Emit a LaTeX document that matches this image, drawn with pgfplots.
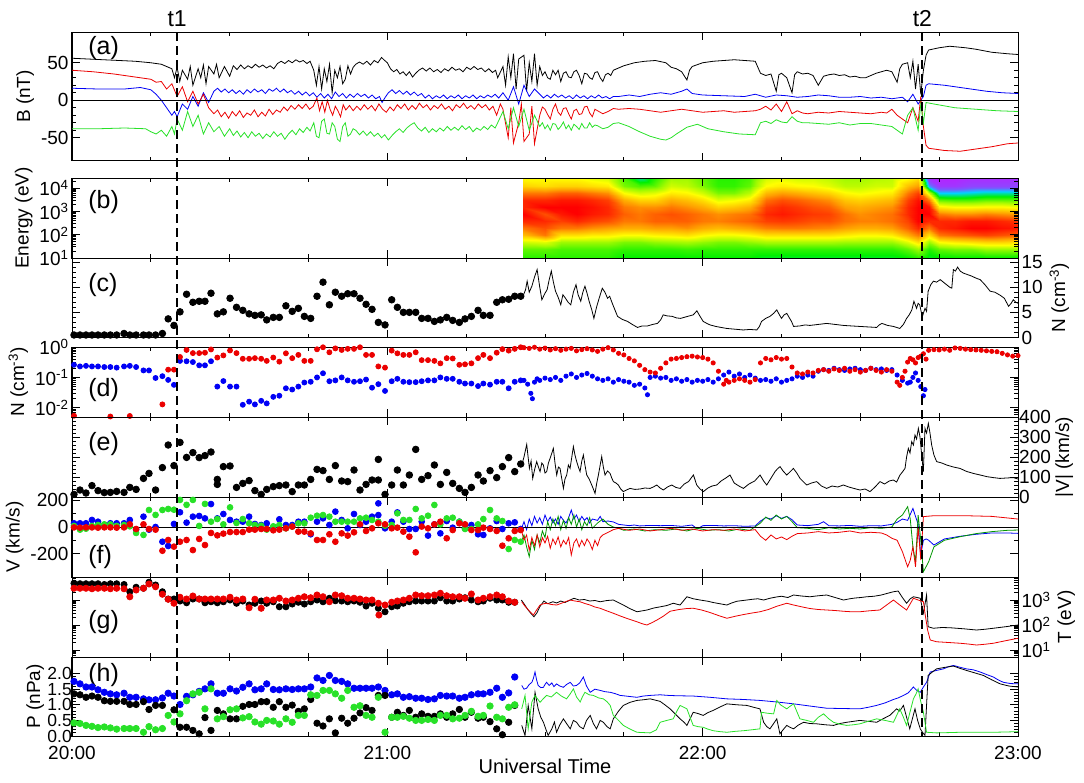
\documentclass[border=0pt]{standalone}
\usepackage{fontspec}
\setmainfont{Liberation Sans}
\usepackage{pgfplots}
\usepackage{pgfplotstable}
\pgfplotsset{compat=1.18}
\definecolor{cR}{RGB}{235,0,0}
\definecolor{cB}{RGB}{0,0,245}
\definecolor{cG}{RGB}{40,225,40}
\definecolor{cGd}{RGB}{0,150,0}

\pgfplotstableread{
t     Nc   Nr     Nb     V    Vb   Vg   Vr   Tk   Tr   Pb   Pk   Pg
0.38  0.5  0.0055 0.26   13   28   8    -3   3.67 3.47 1.75 1.35 0.42
1.52  0.5  nan    0.23   35   28   -20  -5   3.65 3.47 1.67 1.32 0.40
2.66  0.5  nan    0.24   20   28   -13  -3   3.65 3.47 1.57 1.24 0.34
3.8   0.5  nan    0.23   57   53   8    -3   3.65 3.45 1.57 1.28 0.31
4.95  0.5  nan    0.23   32   40   15   -5   3.65 3.47 1.48 1.24 0.27
6.15  0.5  nan    0.22   22   15   20   -3   3.62 3.47 1.40 1.13 0.29
7.3   0.5  0.0052 0.22   23   28   20   -3   3.65 3.45 1.35 1.11 0.26
8.5   0.5  nan    0.21   28   28   8    -5   3.65 3.47 1.32 1.11 0.22
9.9   0.8  nan    0.23   23   28   15   -3   3.62 3.45 1.37 1.11 0.24
11.0  0.5  0.0054 0.24   48   53   5    20   3.33 3.13 1.24 1.01 0.24
12.2  0.5  nan    0.22   38   -20  -45  -15  3.51 3.40 1.24 1.01 0.24
13.6  0.5  nan    0.17   93   78   -60  20   3.47 3.47 1.19 1.10 0.12
14.65 0.5  nan    0.17   118  -20  128  -15  3.71 3.64 1.16 0.85 0.30
15.9  0.5  nan    0.096  35   0    91   -20  3.60 3.53 1.16 0.98 0.20
17.2  0.8  0.013  0.11   147  -111 128  -179 3.33 3.23 1.22 0.98 0.24
18.3  3.7  0.18   0.083  260  -143 136  -98  3.04 3.03 1.37 nan  0.66
19.4  2.4  0.18   0.057  157  23   130  -148 3.04 2.87 1.28 0.84 0.45
20.55 5.1  0.47   0.35   273  111  204  -111 2.96 3.11 1.01 0.28 0.71
21.8  8.6  0.8    0.34   198  33   167  -98  2.89 3.04 1.27 0.28 1.13
23.0  7.0  0.63   0.32   222  78   204  -174 3.04 3.16 1.32 0.18 1.35
24.2  7.2  0.63   0.25   197  83   8    -90  3.04 3.04 1.43 0.07 1.40
25.3  7.2  0.65   0.25   207  65   174  -136 2.89 3.04 1.51 0.59 0.87
26.45 8.8  0.83   0.34   225  173  40   -45  2.93 3.04 1.67 0.18 1.51
27.65 4.7  0.45   0.05   88   65   60   -63  2.89 3.04 1.37 0.82 0.55
28.8  5.1  0.53   0.076  152  98   20   -50  2.93 3.04 1.37 0.71 0.62
30.07 7.8  0.77   0.05   155  53   148  -38  3.00 3.11 1.51 0.55 0.84
31.3  6.0  0.63   0.05   48   40   30   -38  2.87 3.00 1.44 0.55 0.87
32.5  5.4  0.41   0.0126 68   40   60   -38  2.96 3.04 1.56 0.95 0.58
33.7  4.7  0.41   0.016  82   78   28   -20  2.80 2.69 1.67 1.01 0.62
34.8  4.4  0.43   0.013  32   23   15   -20  2.87 3.03 1.48 1.01 0.45
36.0  4.5  0.41   0.017  13   15   10   -15  2.96 2.67 1.51 1.10 0.38
37.05 3.5  0.35   0.014  38   28   -20  -15  2.87 3.00 1.67 1.10 0.50
38.3  4.0  0.45   0.023  52   -3   5    -25  2.93 3.00 1.49 0.92 0.48
39.45 4.0  0.33   0.025  57   58   15   -20  2.73 3.07 1.48 1.10 0.38
40.7  6.3  0.62   0.044  60   15   -10  -10  2.73 2.96 1.51 0.92 0.55
41.9  5.2  0.43   0.04   27   15   3    3    2.84 3.00 1.49 0.99 0.44
43.07 5.8  0.55   0.05   60   40   28   -35  2.91 3.07 1.51 0.79 0.66
44.21 4.2  0.35   0.068  60   40   28   -35  2.84 3.13 1.51 0.87 0.66
45.42 3.8  0.35   0.072  88   -55  70   -48  2.93 3.09 1.57 1.17 1.32
46.62 8.2  0.84   0.1    138  40   85   -98  3.00 3.20 1.86 0.41 1.30
47.76 11.0 0.98   0.137  132  65   90   -98  2.93 3.13 1.78 0.32 1.46
48.97 6.5  0.67   0.075  88   15   78   -55  3.07 2.93 1.94 0.55 1.46
50.11 9.0  0.9    0.08   157  116  40   -111 2.97 3.20 1.78 0.10 1.35
51.31 8.2  0.8    0.1    80   53   40   -48  2.96 3.17 1.75 0.57 1.21
52.46 8.7  0.87   0.08   77   -10  40   -65  2.93 3.07 1.67 0.41 1.46
53.66 8.7  0.87   0.072  135  98   40   -40  2.96 3.07 1.53 0.57 0.92
54.8  7.8  0.98   0.075  35   15   65   20   2.91 3.04 1.53 0.74 0.97
55.95 6.6  0.55   0.085  63   40   70   -30  2.76 3.00 1.53 0.91 0.66
57.09 5.6  0.55   0.046  85   78   53   -10  2.87 3.00 1.53 0.82 0.60
58.29 3.0  0.23   0.06   188  90   40   28   2.67 2.87 1.57 1.30 1.24
59.56 2.5  0.21   0.036  13   -10  10   20   2.53 2.80 1.46 1.30 0.12
60.83 7.5  0.76   0.075  60   40   15   -10  2.73 2.91 1.32 0.60 0.60
61.91 6.0  0.62   0.09   135  110  103  -5   2.76 2.96 1.35 0.76 0.60
63.05 5.0  0.55   0.072  60   40   53   -35  2.87 3.00 1.24 0.66 0.63
64.19 5.0  0.55   0.07   110  -15  53   -73  2.93 3.07 1.26 0.82 0.57
65.4  5.0  0.67   0.07   238  -15  136  -191 2.96 3.20 1.21 0.60 0.50
66.54 3.8  0.37   0.075  88   40   65   3    2.96 3.17 1.21 0.71 0.50
67.74 3.8  0.37   0.08   107  -65  85   -10  2.96 3.17 1.17 0.63 0.53
68.95 3.2  0.35   0.08   160  20   166  20   2.96 3.20 1.19 0.63 0.50
70.09 3.5  0.29   0.1    63   -48  20   40   3.09 3.27 1.30 0.71 0.66
71.3  4.0  0.43   0.09   123  45   65   -85  2.96 3.17 1.28 0.60 0.66
72.44 3.4  0.42   0.09   68   -5   70   -23  2.96 3.13 1.28 0.71 0.55
73.7  3.0  0.26   0.072  43   40   40   28   3.04 3.13 1.21 0.85 0.57
74.78 3.7  0.27   0.063  23   -10  -15  20   3.09 3.07 1.24 0.60 0.66
75.99 4.2  0.29   0.063  48   15   -15  -23  3.00 3.24 1.32 0.76 0.79
77.26 5.4  0.43   0.052  110  -55  20   -23  2.93 3.00 1.35 0.57 0.63
78.27 4.4  0.55   0.063  80   -60  60   -5   2.96 3.07 1.35 0.60 0.66
79.54 4.4  0.43   0.058  132  -10  128  -15  3.07 3.13 1.40 0.46 0.96
80.81 7.0  0.65   0.072  97   45   65   -30  3.00 3.20 1.53 0.23 0.60
81.89 7.5  0.85   0.072  152  -15  45   -141 3.00 3.13 1.24 0.04 0.55
83.09 7.6  0.76   0.044  197  28   -166 -85  2.91 2.96 1.38 0.44 0.92
84.24 8.2  0.87   0.072  127  35   -98  -30  2.91 2.91 1.89 0.98 1.00
85.38 8.2  0.98   0.08   165  -15  -111 -23  nan  nan  nan  nan  nan
}\dots

\pgfplotsset{
  panel/.style={
    scale only axis, width=946pt, anchor=north west,
    xmin=0, xmax=180, xtick={0,60,120,180},
    minor xtick={15,30,45,75,90,105,135,150,165},
    xticklabels={},
    tick align=inside, major tick length=8pt, minor tick length=4pt,
    axis line style={line width=1pt},
    every tick/.style={black, line width=0.9pt},
    tick label style={font=\fontsize{19}{21}\selectfont},
    label style={font=\fontsize{19}{21}\selectfont},
    /pgf/number format/assume math mode=true,
    every axis plot/.append style={line width=0.8pt},
  },
  dotk/.style={only marks, mark=*, mark size=3.3pt, black},
}
\tikzset{panellab/.style={anchor=north west, inner sep=0pt, font=\fontsize{25}{28}\selectfont}}

\begin{document}
\begin{tikzpicture}
\useasboundingbox (0pt,0pt) rectangle (1084pt,-782pt);

% ---------------- (a)
\begin{axis}[panel, at={(72pt,-32pt)}, height=129pt, ymin=-81, ymax=91,
  ytick={-50,0,50}, minor y tick num=4, ylabel={B (nT)}]
\addplot[black] coordinates {(0,56)(3,55)(6,54)(9,53)(12,52)(15,50)(17,48)(18,45)(19,42)(19.5,30)(20,44)(20.5,25)(21,40)(22,28)(22.5,45)(23,20)(24,42)(24.5,30)(25,47)(25.5,22)(26,45)(27,35)(27.5,48)(28,30)(29,45)(30,32)(30.7,46)(31.4,41)(32.1,47)(32.8,42)(33.5,46)(34.2,43)(34.9,48)(35.6,44)(36.3,47)(37,43)(37.7,46)(38.4,42)(39.1,49)(39.8,52)(40.5,49)(41.2,53)(41.9,50)(42.6,54)(43.3,51)(44,53)(44.7,49)(45.3,52)(46,40)(46.5,20)(47,45)(47.5,15)(48,42)(48.5,25)(49,48)(49.5,10)(50,40)(50.5,30)(51,45)(51.5,22)(52,28)(52.5,46)(53,35)(53.5,44)(54,48)(54.7,51)(55.4,48)(56.1,52)(56.8,47)(57.5,53)(58.2,50)(58.9,57)(59.5,53)(60,50)(60.6,42)(61.2,38)(61.8,41)(62.4,35)(63,38)(63.6,33)(64.2,38)(64.8,31)(65.4,36)(66,40)(66.7,43)(67.4,39)(68.1,43)(68.8,38)(69.5,41)(70.2,37)(70.9,42)(71.6,39)(72.3,44)(73,40)(73.7,42)(74.4,38)(75.1,44)(75.8,41)(76.5,45)(77.2,41)(77.9,43)(78.6,38)(79.3,42)(80,37)(80.6,40)(81,30)(82,45)(82.5,20)(83,58)(83.5,30)(84,62)(84.5,15)(85,55)(86,60)(86.5,12)(87,50)(87.5,25)(88,62)(88.5,20)(89,45)(89.5,33)(90,38)(90.5,30)(91,28)(91.5,40)(92,34)(92.5,40)(93,25)(93.5,36)(94,38)(94.5,31)(95,30)(95.5,38)(96,40)(96.5,33)(97,22)(97.5,36)(98,35)(98.5,30)(99,28)(99.5,37)(100,38)(100.5,30)(101,25)(101.5,34)(102,36)(102.5,33)(103,40)(105,46)(107,50)(109,52)(111,53)(113,50)(114,44)(115,42)(116,38)(117,27)(117.5,40)(118,45)(120,50)(122,52)(124,53)(126,54)(128,53)(130,52)(131,36)(132,33)(133,35)(134,12)(134.5,34)(135,36)(136,30)(137,10)(137.5,34)(138,38)(139,35)(140,36)(141,33)(142,20)(143,32)(144,34)(145,35)(146,33)(147,34)(148,31)(149,32)(150,30)(151,30)(152,33)(153,36)(154,38)(155,40)(156,38)(157,24)(157.5,42)(158,48)(159,50)(159.5,30)(160,52)(160.5,15)(161,48)(161.5,8)(162,40)(162.5,60)(163,67)(165,70)(167,72)(170,70)(172,68)(175,64)(178,62)(180,61)};
\addplot[cB] coordinates {(0,16)(5,15)(10,15)(13,17)(15,14)(16,8)(17,0)(18,-10)(19,-20)(19.5,-15)(20,-22)(21,-5)(22,-12)(23,5)(24,-8)(25,10)(26,-3)(27,12)(27.7,16)(28.4,11)(29.1,15)(29.8,10)(30.5,14)(31.2,9)(31.9,13)(32.6,8)(33.3,14)(34,10)(34.7,15)(35.4,11)(36.1,14)(36.8,9)(37.5,15)(38.2,12)(38.9,16)(39.6,11)(40.3,15)(41,10)(41.7,13)(42.4,8)(43.1,12)(43.8,7)(44.5,11)(45.2,6)(45.9,10)(46.6,4)(47.3,9)(48,3)(48.7,8)(49.4,2)(50.1,11)(50.8,5)(51.5,9)(52.2,3)(52.9,8)(53.6,4)(54.3,9)(55,5)(55.7,8)(56.4,3)(57.1,7)(57.8,2)(58.5,5)(59,-3)(59.6,4)(60.2,10)(60.9,14)(61.6,9)(62.3,13)(63,8)(63.7,12)(64.4,7)(65.1,11)(65.8,6)(66.5,9)(67.2,3)(67.9,7)(68.6,2)(69.3,6)(70,3)(70.7,7)(71.4,2)(72.1,6)(72.8,3)(73.5,7)(74.2,2)(74.9,6)(75.6,3)(76.3,7)(77,2)(77.7,6)(78.4,3)(79.1,7)(79.8,4)(80.5,8)(81.2,3)(82,10)(83,0)(84,18)(85,-5)(86,20)(87,5)(88,15)(89,8)(89.7,3)(90.4,7)(91.1,3)(91.8,8)(92.5,4)(93.2,7)(93.9,3)(94.6,6)(95.3,2)(96,7)(96.7,3)(97.4,6)(98.1,2)(98.8,6)(99.5,3)(100.2,7)(100.9,3)(101.6,5)(102.3,2)(103,5)(104,5)(106,7)(108,5)(110,8)(112,10)(114,8)(116,12)(117,15)(118,9)(120,7)(124,6)(128,5)(130,8)(132,4)(134,7)(136,6)(138,4)(140,5)(142,7)(144,6)(146,4)(148,4)(150,5)(152,3)(154,4)(156,2)(158,4)(159,-2)(160,8)(161,-5)(162,5)(162.5,20)(163,22)(166,20)(170,16)(174,12)(177,10)(180,9)};
\addplot[cR] coordinates {(0,40)(4,38)(8,35)(12,31)(15,28)(16,24)(17,25)(18,15)(19,22)(20,5)(21,18)(22,-2)(23,12)(24,-5)(25,8)(26,-10)(27,-18)(27.7,-13)(28.4,-22)(29.1,-16)(29.8,-24)(30.5,-15)(31.2,-21)(31.9,-14)(32.6,-23)(33.3,-17)(34,-20)(34.7,-13)(35.4,-22)(36.1,-16)(36.8,-21)(37.5,-12)(38.2,-19)(38.9,-13)(39.6,-16)(40.3,-9)(41,-14)(41.7,-7)(42.4,-12)(43.1,-6)(43.8,-11)(44.5,-5)(45.2,-12)(45.9,-8)(46.6,3)(47.1,-14)(47.6,-2)(48.1,-16)(48.6,0)(49.1,-12)(49.6,-20)(50.1,-8)(50.6,-14)(51.1,-22)(51.6,-6)(52.1,-13)(52.8,-7)(53.5,-14)(54.2,-8)(54.9,-13)(55.6,-6)(56.3,-12)(57,-7)(57.7,-14)(58.4,-5)(59.1,-12)(59.8,-16)(60.5,-9)(61.2,-14)(61.9,-6)(62.6,-11)(63.3,-5)(64,-13)(64.7,-7)(65.4,-12)(66.1,-4)(66.8,-10)(67.5,-6)(68.2,-13)(68.9,-7)(69.6,-11)(70.3,-5)(71,-12)(71.7,-8)(72.4,-14)(73.1,-6)(73.8,-10)(74.5,-4)(75.2,-11)(75.9,-7)(76.6,-12)(77.3,-5)(78,-10)(78.7,-6)(79.4,-13)(80.1,-8)(80.8,-20)(81.5,-5)(82,-12)(83,-50)(83.5,-10)(84,-57)(85,-30)(85.5,-5)(86,-55)(87,-45)(87.5,-8)(88,-58)(89,-20)(89.5,-9)(90,-12)(90.5,-19)(91,-25)(91.5,-12)(92,-5)(92.5,-16)(93,-20)(93.5,-11)(94,-10)(94.5,-18)(95,-25)(95.5,-14)(96,-12)(96.5,-19)(97,-18)(97.5,-9)(98,-8)(98.5,-17)(99,-22)(99.5,-12)(100,-14)(101,-18)(102,-15)(103,-11)(104,-12)(106,-11)(108,-12)(110,-14)(112,-16)(114,-14)(116,-12)(118,-14)(120,-16)(122,-15)(124,-14)(126,-16)(128,-15)(130,-14)(131,-12)(132,-8)(133,-13)(134,-5)(135,-15)(136,-2)(137,-18)(138,-14)(139,-17)(140,-18)(142,-16)(144,-17)(146,-15)(148,-16)(150,-17)(152,-18)(154,-16)(155,-17)(156,-12)(157,-20)(158,-25)(159,-30)(160,-10)(161,-28)(161.5,5)(162,-35)(162.5,-60)(163,-64)(166,-67)(169,-68)(172,-65)(175,-62)(178,-58)(180,-57)};
\addplot[cG] coordinates {(0,-38)(5,-38)(10,-37)(14,-38)(15,-42)(16,-45)(17,-40)(18,-48)(19,-35)(19.5,-45)(20,-25)(21,-40)(22,-15)(23,-35)(24,-20)(25,-45)(26,-30)(27,-42)(28,-35)(29,-48)(30,-38)(30.7,-47)(31.4,-41)(32.1,-49)(32.8,-43)(33.5,-50)(34.2,-42)(34.9,-48)(35.6,-44)(36.3,-51)(37,-45)(37.7,-49)(38.4,-42)(39.1,-48)(39.8,-44)(40.5,-52)(41.2,-45)(41.9,-40)(42.6,-46)(43.3,-38)(44,-43)(44.7,-36)(45.3,-41)(46,-30)(46.5,-48)(47,-50)(47.5,-28)(48,-25)(48.5,-44)(49,-45)(49.5,-30)(50,-35)(50.5,-52)(51,-55)(51.5,-35)(52,-30)(52.5,-48)(53,-45)(53.5,-38)(54,-40)(54.7,-46)(55.4,-41)(56.1,-47)(56.8,-42)(57.5,-48)(58.2,-44)(58.9,-50)(59.5,-46)(60.2,-53)(60.9,-47)(61.6,-42)(62.3,-38)(63,-43)(63.7,-37)(64.4,-33)(65.1,-30)(65.8,-37)(66.5,-41)(67.2,-36)(67.9,-43)(68.6,-38)(69.3,-42)(70,-37)(70.7,-41)(71.4,-35)(72.1,-40)(72.8,-36)(73.5,-40)(74.2,-34)(74.9,-39)(75.6,-35)(76.3,-42)(77,-37)(77.7,-40)(78.4,-35)(79.1,-39)(79.8,-33)(80.5,-37)(81,-30)(82,-15)(83,-38)(84,-10)(85,-35)(86,-12)(87,-40)(88,-20)(89,-35)(89.5,-30)(90,-38)(90.5,-33)(91,-40)(91.5,-31)(92,-32)(92.5,-39)(93,-35)(93.5,-29)(94,-38)(94.5,-33)(95,-40)(95.5,-32)(96,-35)(96.5,-39)(97,-31)(97.5,-37)(98,-37)(98.5,-30)(99,-36)(99.5,-33)(100,-34)(101,-38)(102,-36)(103,-31)(104,-30)(106,-35)(108,-42)(110,-48)(112,-52)(113,-53)(114,-50)(115,-45)(117,-36)(119,-32)(121,-38)(124,-42)(127,-45)(130,-46)(131,-30)(132,-28)(133,-31)(134,-26)(135,-29)(136,-30)(137,-22)(138,-28)(139,-30)(140,-30)(142,-31)(144,-32)(146,-30)(148,-33)(150,-31)(152,-31)(154,-33)(156,-35)(157,-40)(158,-45)(159,-20)(160,-10)(161,-40)(161.5,-5)(162,-30)(162.5,-3)(164,-5)(168,-10)(172,-12)(176,-14)(180,-15)};
\addplot[black] coordinates {(0,0)(180,0)};
\node[panellab] at (axis description cs:0.017,0.965) {(a)};
\coordinate (t1a) at (axis cs:20,91);
\coordinate (t2a) at (axis cs:161.8,91);
\end{axis}

% ---------------- (b)  (y = -log10 E on a reversed axis, so high energies are at the top)
\begin{axis}[panel, at={(72pt,-178pt)}, height=80pt, y dir=reverse, ymin=-4.43, ymax=-1,
  ytick={-4,-3,-2,-1},
  yticklabels={10\textsuperscript{4},10\textsuperscript{3},10\textsuperscript{2},10\textsuperscript{1}},
  minor ytick={-1.301,-1.477,-1.602,-1.699,-1.778,-1.845,-1.903,-1.954,-2.301,-2.477,-2.602,-2.699,-2.778,-2.845,-2.903,-2.954,-3.301,-3.477,-3.602,-3.699,-3.778,-3.845,-3.903,-3.954,-4.301},
  ylabel={Energy (eV)}, axis on top,
  colormap={spec}{rgb255(0cm)=(220,0,255) rgb255(2cm)=(120,90,255) rgb255(3cm)=(0,210,255) rgb255(4.2cm)=(0,240,0) rgb255(5.5cm)=(160,250,0) rgb255(6.5cm)=(255,255,0) rgb255(8cm)=(255,160,0) rgb255(10cm)=(255,0,0)},
  point meta min=0, point meta max=1]
\addplot[surf, shader=interp, mesh/cols=33, point meta=explicit] coordinates {
(85.8,-1.0)[.45] (90,-1.0)[.45] (93,-1.0)[.45] (96,-1.0)[.45] (99,-1.0)[.45] (102,-1.0)[.45] (105,-1.0)[.42] (108,-1.0)[.42] (111,-1.0)[.42] (114,-1.0)[.42] (117,-1.0)[.42] (120,-1.0)[.42] (123,-1.0)[.42] (126,-1.0)[.42] (129,-1.0)[.42] (132,-1.0)[.4] (135,-1.0)[.4] (138,-1.0)[.4] (141,-1.0)[.4] (144,-1.0)[.4] (147,-1.0)[.4] (150,-1.0)[.4] (153,-1.0)[.4] (156,-1.0)[.4] (159,-1.0)[.42] (161,-1.0)[.45] (163,-1.0)[.4] (165,-1.0)[.42] (168,-1.0)[.42] (171,-1.0)[.42] (174,-1.0)[.42] (177,-1.0)[.42] (180,-1.0)[.42]
(85.8,-1.4)[.5] (90,-1.4)[.5] (93,-1.4)[.48] (96,-1.4)[.48] (99,-1.4)[.48] (102,-1.4)[.48] (105,-1.4)[.46] (108,-1.4)[.46] (111,-1.4)[.46] (114,-1.4)[.46] (117,-1.4)[.47] (120,-1.4)[.46] (123,-1.4)[.46] (126,-1.4)[.46] (129,-1.4)[.46] (132,-1.4)[.46] (135,-1.4)[.46] (138,-1.4)[.46] (141,-1.4)[.46] (144,-1.4)[.46] (147,-1.4)[.46] (150,-1.4)[.46] (153,-1.4)[.46] (156,-1.4)[.46] (159,-1.4)[.5] (161,-1.4)[.55] (163,-1.4)[.45] (165,-1.4)[.5] (168,-1.4)[.52] (171,-1.4)[.52] (174,-1.4)[.55] (177,-1.4)[.55] (180,-1.4)[.55]
(85.8,-1.7)[.6] (90,-1.7)[.62] (93,-1.7)[.55] (96,-1.7)[.55] (99,-1.7)[.55] (102,-1.7)[.55] (105,-1.7)[.52] (108,-1.7)[.52] (111,-1.7)[.54] (114,-1.7)[.55] (117,-1.7)[.56] (120,-1.7)[.54] (123,-1.7)[.52] (126,-1.7)[.52] (129,-1.7)[.54] (132,-1.7)[.56] (135,-1.7)[.56] (138,-1.7)[.56] (141,-1.7)[.56] (144,-1.7)[.56] (147,-1.7)[.55] (150,-1.7)[.55] (153,-1.7)[.55] (156,-1.7)[.55] (159,-1.7)[.62] (161,-1.7)[.7] (163,-1.7)[.55] (165,-1.7)[.65] (168,-1.7)[.68] (171,-1.7)[.7] (174,-1.7)[.72] (177,-1.7)[.72] (180,-1.7)[.7]
(85.8,-2.0)[.75] (90,-2.0)[.85] (93,-2.0)[.7] (96,-2.0)[.7] (99,-2.0)[.68] (102,-2.0)[.68] (105,-2.0)[.65] (108,-2.0)[.65] (111,-2.0)[.67] (114,-2.0)[.68] (117,-2.0)[.7] (120,-2.0)[.66] (123,-2.0)[.64] (126,-2.0)[.64] (129,-2.0)[.66] (132,-2.0)[.7] (135,-2.0)[.7] (138,-2.0)[.7] (141,-2.0)[.7] (144,-2.0)[.7] (147,-2.0)[.68] (150,-2.0)[.66] (153,-2.0)[.66] (156,-2.0)[.68] (159,-2.0)[.78] (161,-2.0)[.85] (163,-2.0)[.7] (165,-2.0)[.85] (168,-2.0)[.88] (171,-2.0)[.9] (174,-2.0)[.92] (177,-2.0)[.9] (180,-2.0)[.88]
(85.8,-2.3)[.85] (90,-2.3)[.9] (93,-2.3)[.85] (96,-2.3)[.85] (99,-2.3)[.82] (102,-2.3)[.8] (105,-2.3)[.78] (108,-2.3)[.78] (111,-2.3)[.8] (114,-2.3)[.8] (117,-2.3)[.82] (120,-2.3)[.78] (123,-2.3)[.76] (126,-2.3)[.78] (129,-2.3)[.8] (132,-2.3)[.84] (135,-2.3)[.85] (138,-2.3)[.85] (141,-2.3)[.84] (144,-2.3)[.83] (147,-2.3)[.8] (150,-2.3)[.78] (153,-2.3)[.78] (156,-2.3)[.8] (159,-2.3)[.88] (161,-2.3)[.95] (163,-2.3)[.85] (165,-2.3)[.95] (168,-2.3)[.97] (171,-2.3)[1] (174,-2.3)[1] (177,-2.3)[.98] (180,-2.3)[.97]
(85.8,-2.6)[.95] (90,-2.6)[.95] (93,-2.6)[.92] (96,-2.6)[.95] (99,-2.6)[.92] (102,-2.6)[.9] (105,-2.6)[.85] (108,-2.6)[.85] (111,-2.6)[.88] (114,-2.6)[.88] (117,-2.6)[.88] (120,-2.6)[.85] (123,-2.6)[.84] (126,-2.6)[.86] (129,-2.6)[.88] (132,-2.6)[.92] (135,-2.6)[.93] (138,-2.6)[.92] (141,-2.6)[.9] (144,-2.6)[.9] (147,-2.6)[.86] (150,-2.6)[.84] (153,-2.6)[.84] (156,-2.6)[.86] (159,-2.6)[.92] (161,-2.6)[1] (163,-2.6)[.95] (165,-2.6)[.95] (168,-2.6)[.95] (171,-2.6)[.97] (174,-2.6)[.97] (177,-2.6)[.95] (180,-2.6)[.93]
(85.8,-2.9)[1] (90,-2.9)[.9] (93,-2.9)[.97] (96,-2.9)[1] (99,-2.9)[.97] (102,-2.9)[.95] (105,-2.9)[.88] (108,-2.9)[.85] (111,-2.9)[.88] (114,-2.9)[.9] (117,-2.9)[.88] (120,-2.9)[.85] (123,-2.9)[.82] (126,-2.9)[.84] (129,-2.9)[.86] (132,-2.9)[.95] (135,-2.9)[.97] (138,-2.9)[.95] (141,-2.9)[.93] (144,-2.9)[.92] (147,-2.9)[.86] (150,-2.9)[.82] (153,-2.9)[.84] (156,-2.9)[.86] (159,-2.9)[.95] (161,-2.9)[1] (163,-2.9)[1] (165,-2.9)[.85] (168,-2.9)[.82] (171,-2.9)[.82] (174,-2.9)[.84] (177,-2.9)[.82] (180,-2.9)[.8]
(85.8,-3.2)[.95] (90,-3.2)[1] (93,-3.2)[1] (96,-3.2)[1] (99,-3.2)[.98] (102,-3.2)[.95] (105,-3.2)[.85] (108,-3.2)[.82] (111,-3.2)[.82] (114,-3.2)[.85] (117,-3.2)[.82] (120,-3.2)[.78] (123,-3.2)[.72] (126,-3.2)[.74] (129,-3.2)[.78] (132,-3.2)[.92] (135,-3.2)[.95] (138,-3.2)[.93] (141,-3.2)[.9] (144,-3.2)[.88] (147,-3.2)[.8] (150,-3.2)[.78] (153,-3.2)[.8] (156,-3.2)[.82] (159,-3.2)[.95] (161,-3.2)[1] (163,-3.2)[.98] (165,-3.2)[.68] (168,-3.2)[.65] (171,-3.2)[.65] (174,-3.2)[.66] (177,-3.2)[.66] (180,-3.2)[.64]
(85.8,-3.5)[.95] (90,-3.5)[.95] (93,-3.5)[.97] (96,-3.5)[.97] (99,-3.5)[.95] (102,-3.5)[.92] (105,-3.5)[.78] (108,-3.5)[.72] (111,-3.5)[.72] (114,-3.5)[.78] (117,-3.5)[.75] (120,-3.5)[.7] (123,-3.5)[.62] (126,-3.5)[.64] (129,-3.5)[.68] (132,-3.5)[.86] (135,-3.5)[.9] (138,-3.5)[.88] (141,-3.5)[.85] (144,-3.5)[.82] (147,-3.5)[.74] (150,-3.5)[.72] (153,-3.5)[.74] (156,-3.5)[.76] (159,-3.5)[.92] (161,-3.5)[.98] (163,-3.5)[.85] (165,-3.5)[.5] (168,-3.5)[.48] (171,-3.5)[.48] (174,-3.5)[.5] (177,-3.5)[.5] (180,-3.5)[.5]
(85.8,-3.8)[.85] (90,-3.8)[.85] (93,-3.8)[.88] (96,-3.8)[.88] (99,-3.8)[.85] (102,-3.8)[.82] (105,-3.8)[.65] (108,-3.8)[.6] (111,-3.8)[.62] (114,-3.8)[.68] (117,-3.8)[.66] (120,-3.8)[.6] (123,-3.8)[.52] (126,-3.8)[.52] (129,-3.8)[.58] (132,-3.8)[.76] (135,-3.8)[.8] (138,-3.8)[.78] (141,-3.8)[.75] (144,-3.8)[.72] (147,-3.8)[.66] (150,-3.8)[.64] (153,-3.8)[.66] (156,-3.8)[.68] (159,-3.8)[.85] (161,-3.8)[.92] (163,-3.8)[.6] (165,-3.8)[.3] (168,-3.8)[.3] (171,-3.8)[.32] (174,-3.8)[.34] (177,-3.8)[.34] (180,-3.8)[.34]
(85.8,-4.1)[.72] (90,-4.1)[.7] (93,-4.1)[.72] (96,-4.1)[.72] (99,-4.1)[.7] (102,-4.1)[.68] (105,-4.1)[.52] (108,-4.1)[.48] (111,-4.1)[.5] (114,-4.1)[.6] (117,-4.1)[.58] (120,-4.1)[.52] (123,-4.1)[.46] (126,-4.1)[.46] (129,-4.1)[.5] (132,-4.1)[.65] (135,-4.1)[.68] (138,-4.1)[.66] (141,-4.1)[.65] (144,-4.1)[.62] (147,-4.1)[.58] (150,-4.1)[.58] (153,-4.1)[.6] (156,-4.1)[.6] (159,-4.1)[.75] (161,-4.1)[.8] (163,-4.1)[.25] (165,-4.1)[.12] (168,-4.1)[.12] (171,-4.1)[.15] (174,-4.1)[.15] (177,-4.1)[.15] (180,-4.1)[.15]
(85.8,-4.43)[.65] (90,-4.43)[.65] (93,-4.43)[.65] (96,-4.43)[.65] (99,-4.43)[.62] (102,-4.43)[.6] (105,-4.43)[.48] (108,-4.43)[.35] (111,-4.43)[.45] (114,-4.43)[.55] (117,-4.43)[.55] (120,-4.43)[.5] (123,-4.43)[.45] (126,-4.43)[.45] (129,-4.43)[.48] (132,-4.43)[.6] (135,-4.43)[.62] (138,-4.43)[.6] (141,-4.43)[.6] (144,-4.43)[.58] (147,-4.43)[.55] (150,-4.43)[.55] (153,-4.43)[.57] (156,-4.43)[.58] (159,-4.43)[.65] (161,-4.43)[.7] (163,-4.43)[.1] (165,-4.43)[.08] (168,-4.43)[.08] (171,-4.43)[.1] (174,-4.43)[.1] (177,-4.43)[.1] (180,-4.43)[.1]
};
\node[panellab] at (axis description cs:0.017,0.85) {(b)};
\end{axis}

% ---------------- (c)
\begin{axis}[panel, at={(72pt,-258pt)}, height=79.5pt, ymin=0, ymax=15.8,
  ytick={0,5,10,15}, minor y tick num=4, yticklabel pos=right,
  ylabel={N (cm\textsuperscript{-3})}]
\addplot[dotk] table[x=t,y=Nc] {\dots};
\addplot[black] coordinates {(85.8,8.2)(86.3,9.5)(86.6,11.2)(87.0,9.0)(87.5,10.2)(88.0,12.0)(88.5,13.5)(89.0,10.0)(89.4,7.5)(90.0,8.8)(90.4,9.5)(90.8,11.5)(91.2,13.2)(91.6,11.0)(92.0,9.2)(92.5,8.0)(93.0,6.5)(93.4,8.5)(93.9,7.8)(94.4,7.0)(94.9,6.5)(95.4,9.0)(95.9,10.5)(96.3,8.5)(96.8,7.2)(97.2,9.0)(97.6,10.2)(98.0,8.8)(98.4,7.2)(98.9,5.5)(99.3,3.8)(99.8,6.0)(100.3,7.8)(100.9,9.8)(101.4,9.0)(101.9,7.8)(102.3,8.2)(102.8,6.8)(103.3,5.5)(103.8,4.2)(104.7,3.6)(105.7,3.2)(106.6,2.6)(107.6,2.0)(108.5,2.3)(109.5,2.3)(110.5,2.6)(111.4,2.8)(112.0,3.5)(112.5,4.5)(113.2,4.3)(114.2,4.2)(115.0,3.9)(115.8,3.8)(116.8,4.1)(117.5,4.3)(118.2,4.5)(118.9,5.3)(119.5,4.2)(120.1,3.2)(120.8,2.8)(121.4,2.5)(122.5,2.2)(123.5,2.0)(124.6,1.8)(125.6,1.7)(126.7,1.6)(127.7,1.5)(129.0,1.6)(130.3,1.5)(130.8,2.2)(131.2,3.2)(132.0,3.8)(132.8,4.2)(133.5,4.8)(134.1,5.5)(134.6,4.5)(135.0,3.8)(135.5,4.5)(136.0,4.8)(136.5,3.9)(136.9,3.2)(137.3,2.2)(138.5,2.3)(139.5,2.5)(140.4,2.4)(142,2.6)(143.6,2.8)(145.2,2.6)(146.8,2.4)(148.3,2.3)(149.9,2.2)(151.5,2.1)(153.1,2.0)(153.6,2.5)(154.1,2.8)(155.2,2.4)(156.3,2.2)(157.5,1.8)(158.2,2.6)(158.8,3.8)(159.3,4.5)(159.8,5.5)(160.2,7.2)(160.7,5.8)(161.0,6.8)(161.3,6.5)(161.6,5.0)(161.9,4.5)(162.3,5.8)(162.6,5.2)(162.9,9.2)(163.4,10.5)(163.9,11.2)(164.5,11.0)(165.2,11.5)(165.8,11.0)(166.4,10.5)(167.0,10.0)(167.4,9.8)(167.7,13.5)(168.1,13.2)(168.5,14.0)(169.0,13.2)(169.6,12.8)(170.4,12.5)(171.2,12.2)(172.0,11.8)(172.8,11.5)(173.7,10.5)(174.7,9.2)(175.6,9.0)(176.6,8.4)(177.4,7.8)(178.2,6.2)(178.7,6.8)(179.1,7.5)(179.6,7.0)(180,6.8)};
\node[panellab] at (axis description cs:0.017,0.81) {(c)};
\end{axis}

% ---------------- (d)
\begin{axis}[panel, at={(72pt,-347pt)}, height=70pt, ymode=log, ymin=0.005, ymax=1,
  ytick={0.01,0.1,1},
  yticklabels={10\textsuperscript{-2},10\textsuperscript{-1},10\textsuperscript{0}},
  minor ytick={0.006,0.007,0.008,0.009,0.02,0.03,0.04,0.05,0.06,0.07,0.08,0.09,0.2,0.3,0.4,0.5,0.6,0.7,0.8,0.9},
  ylabel={N (cm\textsuperscript{-3})}]
\addplot[only marks, mark=*, mark size=2.5pt, cB] table[x=t,y=Nb] {\dots};
\addplot[only marks, mark=*, mark size=2.5pt, cR] table[x=t,y=Nr] {\dots};
\addplot[only marks, mark=*, mark size=2.1pt, cB] coordinates {(86,0.08)(86.7,0.06)(87.3,0.03)(87.6,0.02)(88,0.07)(88.5,0.09)(89,0.08)(90,0.095)(91,0.085)(92,0.1)(93,0.08)(94,0.11)(95,0.13)(96,0.1)(97,0.12)(98,0.135)(99,0.11)(100,0.09)(101,0.08)(102,0.09)(103,0.07)(104,0.085)(105,0.075)(106,0.07)(107,0.055)(108,0.06)(109,0.045)(109.5,0.027)(110,0.1)(111,0.11)(112,0.095)(113,0.1)(114,0.08)(115,0.09)(116,0.075)(117,0.085)(118,0.07)(119,0.08)(120,0.075)(121,0.085)(122,0.07)(123,0.09)(124,0.12)(125,0.15)(126,0.11)(127,0.13)(128,0.1)(129,0.12)(130,0.095)(131,0.08)(132,0.085)(133,0.075)(134,0.09)(135,0.07)(136,0.08)(137,0.09)(138,0.11)(139,0.1)(140,0.12)(141,0.11)(142,0.16)(143,0.18)(144,0.17)(145,0.2)(146,0.18)(147,0.17)(148,0.19)(149,0.2)(150,0.18)(151,0.17)(152,0.2)(153,0.18)(154,0.19)(155,0.17)(156,0.18)(157,0.12)(158,0.08)(159,0.065)(159.5,0.07)(160,0.1)(160.5,0.14)(161,0.08)(161.5,0.05)(162,0.025)(162.3,0.04)};
\addplot[only marks, mark=*, mark size=2.1pt, cR] coordinates {(86,0.95)(87,0.9)(88,0.98)(89,0.85)(90,0.92)(91,0.8)(92,0.88)(93,0.78)(94,0.85)(95,0.9)(96,0.75)(97,0.82)(98,0.88)(99,0.8)(100,0.72)(101,0.85)(102,0.95)(103,0.8)(104,0.62)(105,0.55)(106,0.42)(107,0.35)(108,0.25)(109,0.18)(110,0.15)(111,0.14)(112,0.2)(113,0.3)(114,0.4)(115,0.42)(116,0.45)(117,0.48)(118,0.5)(119,0.47)(120,0.45)(121,0.4)(122,0.3)(123,0.16)(124,0.06)(124.5,0.08)(125,0.07)(126,0.08)(127,0.09)(128,0.08)(129,0.07)(130,0.085)(131,0.3)(132,0.42)(133,0.38)(134,0.45)(135,0.4)(136,0.42)(137,0.22)(138,0.14)(139,0.13)(140,0.15)(141,0.14)(142,0.17)(143,0.18)(144,0.16)(145,0.19)(146,0.17)(147,0.2)(148,0.16)(149,0.18)(150,0.15)(151,0.17)(152,0.2)(153,0.17)(154,0.15)(155,0.18)(156,0.16)(157,0.07)(157.5,0.055)(158,0.1)(158.5,0.16)(159,0.32)(159.5,0.42)(160,0.38)(160.5,0.3)(161,0.45)(161.5,0.5)(162,0.6)(162.5,0.4)(163,0.78)(164,0.82)(165,0.8)(166,0.85)(167,0.78)(168,0.93)(169,0.9)(170,0.85)(171,0.82)(172,0.8)(173,0.78)(174,0.75)(175,0.72)(176,0.7)(177,0.62)(178,0.55)(179,0.5)(180,0.52)};
\node[panellab] at (axis description cs:0.017,0.557) {(d)};
\end{axis}

% ---------------- (e)
\begin{axis}[panel, at={(72pt,-417pt)}, height=80pt, ymin=0, ymax=400,
  ytick={0,100,200,300,400}, minor y tick num=4, yticklabel pos=right,
  yticklabel style={inner sep=1pt},
  ylabel={|V| (km/s)}]
\addplot[dotk] table[x=t,y=V] {\dots};
\addplot[dotk] coordinates {(27.65,63)(58.29,85)};
\addplot[black] coordinates {(85.57,160)(86.0,200)(86.52,263)(87.03,143)(87.35,180)(87.66,93)(88.05,140)(88.42,177)(88.75,150)(89.06,127)(89.4,170)(89.69,160)(90.0,120)(90.32,127)(90.65,170)(90.96,193)(91.3,220)(91.59,243)(91.9,170)(92.23,110)(92.55,150)(92.86,143)(93.2,90)(93.5,43)(93.8,90)(94.13,110)(94.45,160)(94.77,143)(95.1,200)(95.4,252)(95.7,210)(96.03,177)(96.35,150)(96.67,127)(97.0,180)(97.3,210)(97.6,160)(97.94,110)(98.4,90)(98.89,60)(99.2,40)(99.52,18)(99.85,70)(100.16,110)(100.5,160)(100.79,202)(101.1,150)(101.42,110)(101.9,130)(102.38,118)(102.7,95)(103.01,77)(103.5,70)(103.96,60)(104.4,40)(104.91,27)(105.5,35)(106.18,43)(107.1,38)(108.08,40)(109.0,45)(109.99,43)(110.6,50)(111.26,60)(111.9,45)(112.52,35)(113.3,50)(114.11,60)(114.9,48)(115.7,43)(116.5,65)(117.3,77)(118.24,110)(118.87,60)(119.5,40)(120.14,27)(121.0,45)(121.8,55)(122.68,60)(123.5,80)(124.4,95)(125.2,110)(126.0,70)(126.9,55)(127.75,43)(128.8,65)(129.9,80)(130.92,110)(131.6,80)(132.19,60)(132.9,90)(133.77,127)(134.2,140)(134.72,152)(135.3,130)(135.99,110)(136.6,125)(137.26,143)(137.9,120)(138.53,93)(139.2,75)(139.8,60)(140.7,70)(141.7,77)(142.6,55)(143.6,43)(144.6,55)(145.7,50)(146.77,60)(147.8,50)(148.9,42)(149.94,35)(150.9,40)(151.84,27)(152.8,50)(153.74,77)(154.6,65)(155.5,80)(156.28,85)(156.9,75)(157.55,110)(158.0,125)(158.5,143)(158.8,200)(159.13,243)(159.45,220)(159.77,277)(160.1,260)(160.4,310)(160.7,290)(161.04,343)(161.35,300)(161.67,210)(161.99,127)(162.3,343)(162.6,320)(162.94,368)(163.25,320)(163.57,260)(164.0,210)(164.52,177)(165.5,170)(166.42,160)(167.7,150)(168.96,143)(170.2,128)(171.5,118)(172.8,110)(174.03,102)(175.3,97)(176.57,93)(177.8,95)(179.1,97)(180,90)};
\node[panellab] at (axis description cs:0.017,0.81) {(e)};
\end{axis}

% ---------------- (f)
\begin{axis}[panel, at={(72pt,-497pt)}, height=80pt, ymin=-377, ymax=226,
  ytick={-200,0,200}, minor y tick num=1, ylabel={V (km/s)}]
\addplot[only marks, mark=*, mark size=2.9pt, cB] table[x=t,y=Vb] {\dots};
\addplot[only marks, mark=*, mark size=2.9pt, cB] coordinates {(58.29,178)};
\addplot[only marks, mark=*, mark size=2.9pt, cG] table[x=t,y=Vg] {\dots};
\addplot[only marks, mark=*, mark size=2.9pt, cR] table[x=t,y=Vr] {\dots};
\addplot[cB] coordinates {(85.5,-15)(86,40)(86.5,-20)(87,60)(87.5,10)(88,80)(88.5,30)(89,70)(89.5,20)(90,90)(90.5,40)(91,75)(91.5,30)(92,60)(92.5,20)(93,80)(93.5,50)(94,30)(94.5,70)(95,128)(95.5,60)(96,90)(96.5,40)(97,80)(97.5,50)(98,70)(98.5,30)(99,60)(100,50)(100.5,80)(101,40)(102,45)(103,38)(104,20)(105,15)(106,10)(107,15)(108,8)(110,12)(112,10)(114,12)(116,5)(118,15)(119,-15)(120,10)(122,12)(124,8)(126,10)(128,5)(130,8)(131,45)(132,70)(133,60)(134,85)(135,65)(136,80)(137,55)(138,15)(140,10)(142,20)(143,40)(144,10)(146,8)(148,12)(150,5)(152,10)(154,8)(156,20)(157,35)(158,60)(159,50)(160,140)(160.5,80)(161,20)(161.5,-211)(162,-100)(162.5,-90)(163,-100)(164,-136)(166,-90)(169,-70)(172,-55)(175,-45)(178,-45)(180,-48)};
\addplot[cGd] coordinates {(85.5,-111)(86,-60)(86.5,-150)(87,-224)(87.5,-100)(88,-170)(88.5,-60)(89,-120)(89.5,-30)(90,-80)(90.5,40)(91,-20)(91.5,60)(92,10)(92.5,80)(93,-20)(93.5,50)(94,-10)(94.5,70)(95,20)(95.5,90)(96,0)(96.5,60)(97,-20)(97.5,40)(98,10)(98.5,70)(99,-10)(100,30)(101,60)(102,20)(103,0)(104,-10)(105,-25)(107,-15)(109,-30)(111,-20)(113,-25)(115,-15)(117,-30)(119,-10)(121,-25)(123,-20)(125,-30)(127,-15)(129,-25)(131,30)(132,75)(133,50)(134,90)(135,60)(136,80)(137,40)(138,-5)(140,-10)(142,-20)(144,-5)(146,-15)(148,-10)(150,-15)(152,-5)(154,-10)(156,0)(157,60)(158,90)(159,153)(159.5,60)(160,-150)(160.5,-262)(161,90)(161.5,-100)(162,-337)(162.5,-300)(163,-262)(164,-150)(166,-100)(169,-73)(172,-50)(175,-35)(178,-25)(180,-23)};
\addplot[cR] coordinates {(85.5,-23)(86,-100)(86.5,-60)(87,-175)(87.5,-80)(88,-140)(88.5,-60)(89,-150)(89.5,-80)(90,-120)(90.5,-70)(91,-160)(91.5,-90)(92,-130)(92.5,-75)(93,-150)(93.5,-100)(94,-130)(94.5,-80)(95,-211)(95.5,-120)(96,-90)(96.5,-150)(97,-100)(97.5,-140)(98,-90)(98.5,-120)(99,-170)(99.5,-100)(100,-140)(100.5,-80)(101,-60)(102,-40)(103,-20)(104,-10)(106,-25)(108,-15)(110,-30)(112,-20)(114,-10)(116,-25)(118,-15)(120,-30)(122,-20)(124,-25)(126,-15)(128,-30)(130,-20)(131,-70)(132,-100)(133,-60)(134,-90)(135,-75)(136,-95)(137,-70)(138,-50)(140,-45)(142,-35)(144,-45)(146,-40)(148,-30)(150,-45)(152,-40)(154,-45)(155,-60)(156,-85)(157,-100)(158,-186)(159,-300)(159.5,-250)(160,-150)(160.5,-300)(161,0)(161.5,-250)(162,78)(162.5,80)(164,85)(170,85)(175,80)(180,60)};
\addplot[black] coordinates {(0,0)(180,0)};
\node[panellab] at (axis description cs:0.017,0.4) {(f)};
\end{axis}

% ---------------- (g)
\begin{axis}[panel, at={(72pt,-577pt)}, height=80pt, ymin=0.72, ymax=3.92,
  ytick={1,2,3},
  yticklabels={10\textsuperscript{1},10\textsuperscript{2},10\textsuperscript{3}},
  minor ytick={0.778,0.845,0.903,0.954,1.301,1.477,1.602,1.699,1.778,1.845,1.903,1.954,2.301,2.477,2.602,2.699,2.778,2.845,2.903,2.954,3.301,3.477,3.602,3.699,3.778,3.845,3.903},
  yticklabel pos=right, ylabel={T (eV)}]
\addplot[dotk, mark size=3.1pt] table[x=t,y=Tk] {\dots};
\addplot[only marks, mark=*, mark size=3.1pt, cR] table[x=t,y=Tr] {\dots};
\addplot[only marks, mark=*, mark size=3.1pt, cR] coordinates {(58.4,2.4)};
\addplot[black] coordinates {(85.5,3.0)(86,2.85)(86.8,2.6)(87.3,2.47)(87.9,2.33)(88.5,2.5)(89,2.73)(89.8,2.96)(90.5,2.85)(91.5,2.93)(92.2,2.88)(93,2.96)(93.8,2.9)(94.5,2.97)(95.5,3.07)(96.5,3.0)(97.5,3.02)(98.5,2.96)(99.5,2.98)(100.5,2.93)(101.8,2.98)(103,3.0)(104.9,2.8)(106.2,2.65)(107.5,2.53)(109.4,2.6)(110.7,2.68)(112,2.73)(113.2,2.78)(114.4,2.87)(115.7,2.8)(117,3.13)(118.2,3.05)(119.5,3.0)(121,2.95)(122,2.9)(123.3,2.85)(124.6,2.8)(125.5,2.88)(126.5,2.95)(128.4,3.0)(129.5,3.03)(130.5,3.05)(131.6,3.0)(132.8,3.07)(134,3.12)(135,3.15)(136.2,3.1)(137.3,3.2)(138.8,3.16)(140.4,3.13)(142,3.17)(143.6,3.2)(145.2,3.1)(146.8,3.0)(148,3.05)(149,3.08)(150.1,3.1)(151.2,3.13)(152.6,3.15)(154,3.2)(155.2,3.27)(156.3,3.33)(157.2,3.36)(158,3.1)(158.8,2.87)(159.5,3.05)(160.1,3.13)(160.8,3.1)(161.4,3.07)(162,2.47)(162.6,3.2)(162.9,1.93)(163.9,1.87)(165.5,1.9)(167.1,1.89)(169.6,1.85)(172.1,1.8)(173.7,1.83)(175.3,1.87)(177.6,1.93)(180,2.0)};
\addplot[cR] coordinates {(85.57,2.93)(86.2,2.75)(86.84,2.6)(87.3,2.5)(87.79,2.4)(88.4,2.6)(89.06,2.8)(89.7,2.85)(90.32,2.87)(91.2,2.82)(92.23,2.8)(93.5,2.9)(94.77,3.0)(95.7,2.96)(96.67,2.93)(97.6,2.86)(98.57,2.8)(99.5,2.72)(100.47,2.67)(101.7,2.57)(103,2.47)(104.2,2.37)(105.5,2.27)(106.5,2.2)(107.5,2.13)(108.5,2.05)(109.4,2.0)(110.4,2.1)(111.3,2.2)(112.5,2.35)(113.8,2.55)(115.5,2.62)(117,2.66)(118.2,2.67)(119.8,2.6)(121.4,2.5)(123,2.38)(124.6,2.27)(126.2,2.35)(127.8,2.42)(129.4,2.48)(130.9,2.53)(132.5,2.62)(134.1,2.75)(136,2.87)(137.3,2.8)(139,2.72)(140.4,2.66)(142,2.62)(143.6,2.6)(145.2,2.58)(146.8,2.55)(148.3,2.53)(149.9,2.53)(151.8,2.57)(153.7,2.6)(155,2.8)(156.3,3.0)(157.5,2.8)(158.8,2.6)(159.5,2.85)(160.1,3.07)(161,3.0)(162,2.93)(162.3,2.47)(162.8,1.8)(163.3,1.4)(164.5,1.33)(166.8,1.3)(169,1.27)(170.5,1.24)(172.1,1.2)(173.7,1.23)(175.3,1.27)(177.6,1.37)(180,1.47)};
\node[panellab] at (axis description cs:0.017,0.59) {(g)};
\end{axis}

% ---------------- (h)
\begin{axis}[panel, at={(72pt,-657pt)}, height=79pt, ymin=0, ymax=2.53,
  ytick={0,0.5,1,1.5,2}, minor y tick num=4,
  yticklabel style={inner sep=0pt, font=\fontsize{17.5}{19}\selectfont, /pgf/number format/.cd, fixed, fixed zerofill, precision=1},
  xticklabel style={yshift=-7pt},
  ylabel={P (nPa)},
  xticklabels={20:00,21:00,22:00,23:00}, xlabel={Universal Time},
  xlabel style={font=\fontsize{20}{22}\selectfont, yshift=8pt}]
\addplot[only marks, mark=*, mark size=3.2pt, cB] table[x=t,y=Pb] {\dots};
\addplot[dotk, mark size=3.2pt] table[x=t,y=Pk] {\dots};
\addplot[only marks, mark=*, mark size=3.2pt, cG] table[x=t,y=Pg] {\dots};
\addplot[cB] coordinates {(85.57,1.62)(86.0,1.50)(86.5,1.53)(87.0,1.65)(87.5,1.72)(87.8,1.85)(88.1,2.05)(88.4,1.80)(88.7,1.62)(89.2,1.55)(89.7,1.56)(90.0,1.65)(90.3,1.72)(90.8,1.62)(91.3,1.70)(91.7,1.58)(92.2,1.67)(92.8,1.60)(93.5,1.56)(94.1,1.65)(94.8,1.72)(95.4,1.60)(96.0,1.62)(96.6,1.70)(97.3,1.89)(97.9,1.60)(98.6,1.40)(99.5,1.50)(100.5,1.46)(101.4,1.42)(102.4,1.40)(103.3,1.36)(104.3,1.30)(105.9,1.27)(107.5,1.24)(108.7,1.28)(110,1.30)(111.9,1.32)(113.5,1.30)(115.0,1.29)(118.2,1.28)(121.4,1.24)(124.6,1.19)(127.8,1.17)(130.9,1.14)(134.1,1.09)(137.3,1.03)(140.4,0.96)(143.6,0.89)(146.8,0.88)(149.9,0.87)(151.5,0.92)(153.1,0.98)(154.7,1.06)(156.3,1.17)(157.2,1.22)(158.2,1.30)(159.1,1.38)(160.1,1.57)(160.8,1.45)(161.4,1.40)(162,1.57)(162.6,1.72)(163.3,2.05)(164.5,2.10)(165.8,2.15)(166.8,2.22)(167.7,2.26)(169.0,2.20)(170.2,2.15)(171.5,2.12)(172.8,2.05)(174.0,1.97)(175.3,1.89)(176.2,1.80)(177.2,1.72)(178.6,1.68)(180,1.67)};
\addplot[black] coordinates {(85.57,0.34)(86.2,0.02)(86.8,0.98)(87.5,0.23)(88.1,1.40)(88.7,0.87)(89.2,0.60)(89.7,0.44)(90.2,0.20)(90.6,0.02)(91.3,0.23)(91.8,0.45)(92.2,0.12)(92.8,0.35)(93.5,0.55)(94.1,0.40)(94.8,0.23)(95.4,0.50)(96.0,0.44)(96.6,0.30)(97.3,0.23)(97.9,0.50)(98.6,0.66)(99.2,0.40)(99.8,0.23)(100.5,0.50)(101.1,0.44)(101.8,0.30)(102.4,0.23)(103.0,0.55)(104.0,0.80)(104.9,0.98)(106.2,1.08)(107.5,1.14)(108.7,1.16)(110,1.19)(111.9,1.11)(112.8,1.00)(113.8,0.87)(114.8,0.70)(115.7,0.55)(116.4,0.45)(117,0.34)(117.6,0.55)(118.2,0.76)(119.1,0.72)(120.1,0.66)(121,0.75)(122,0.82)(123.3,0.93)(124.6,1.03)(126.5,1.00)(128.4,0.98)(129.7,0.92)(130.9,0.87)(131.6,0.44)(132.2,0.30)(132.8,0.23)(133.5,0.40)(134.1,0.55)(134.7,0.07)(135.3,0.20)(136,0.34)(136.6,0.28)(137.3,0.23)(138.2,0.35)(139.2,0.44)(140.4,0.40)(141.7,0.39)(143.3,0.36)(144.9,0.34)(146.1,0.40)(147.4,0.44)(148.7,0.47)(149.9,0.50)(151.5,0.47)(153.1,0.44)(154.3,0.55)(155.6,0.66)(156.9,0.87)(157.5,0.80)(158.2,0.98)(158.8,0.60)(159.4,0.23)(159.9,0.55)(160.4,0.87)(160.9,0.50)(161.4,0.23)(161.9,0.10)(162.3,0.02)(162.9,1.94)(163.7,2.05)(164.5,2.15)(166.1,2.20)(167.7,2.24)(168.9,2.17)(170.2,2.10)(171.8,2.02)(173.4,1.94)(175.0,1.80)(176.6,1.67)(178.3,1.60)(180,1.57)};
\addplot[cG] coordinates {(85.57,0.87)(86.2,1.30)(86.8,0.23)(87.5,1.09)(88.1,1.30)(89.06,1.08)(89.7,1.20)(90.3,1.30)(91.2,1.25)(92.2,1.40)(93.1,1.28)(94.1,1.19)(94.8,1.35)(95.4,1.51)(96.0,1.25)(96.7,1.09)(97.1,1.25)(97.6,1.40)(98.4,1.32)(99.2,1.30)(100.2,1.22)(101.1,1.19)(101.8,1.10)(102.4,0.98)(103,0.66)(104,0.50)(104.9,0.34)(106.2,0.22)(107.5,0.12)(108.7,0.11)(110,0.10)(111.2,0.20)(111.9,0.44)(113.2,0.50)(114.4,0.55)(115.1,0.80)(115.7,0.98)(116.4,0.92)(117,0.87)(117.6,0.60)(118.2,0.34)(119.1,0.30)(120.1,0.28)(121,0.22)(122,0.17)(123.3,0.14)(124.6,0.12)(126.2,0.15)(127.8,0.17)(129.4,0.20)(130.9,0.23)(131.2,0.76)(132.3,0.73)(133.5,0.71)(134.1,1.14)(134.8,1.00)(136,0.87)(136.6,0.95)(137.3,1.03)(138.5,0.55)(139.8,0.50)(141.1,0.44)(142,0.60)(143,0.71)(144,0.55)(144.9,0.44)(146.1,0.38)(147.4,0.34)(148.7,0.36)(149.9,0.39)(151.5,0.47)(153.1,0.55)(154.7,0.50)(156.3,0.44)(157.5,0.87)(158.2,0.60)(158.8,0.34)(159.5,0.80)(160.1,1.19)(160.6,1.35)(161.0,1.51)(161.5,1.10)(162,0.76)(162.6,0.12)(164.5,0.10)(167,0.11)(169,0.12)(172,0.12)(175.3,0.12)(178,0.13)(180,0.14)};
\node[panellab] at (axis description cs:0.017,0.92) {(h)};
\coordinate (t1h) at (axis cs:20,0);
\coordinate (t2h) at (axis cs:161.8,0);
\end{axis}

\draw[black, line width=1.8pt, dash pattern=on 9pt off 5pt] (t1a) -- (t1h);
\draw[black, line width=1.8pt, dash pattern=on 9pt off 5pt] (t2a) -- (t2h);
\node[anchor=south, inner sep=0pt, yshift=5pt, font=\fontsize{23}{26}\selectfont] at (t1a) {t1};
\node[anchor=south, inner sep=0pt, yshift=5pt, font=\fontsize{23}{26}\selectfont] at (t2a) {t2};
\end{tikzpicture}
\end{document}
